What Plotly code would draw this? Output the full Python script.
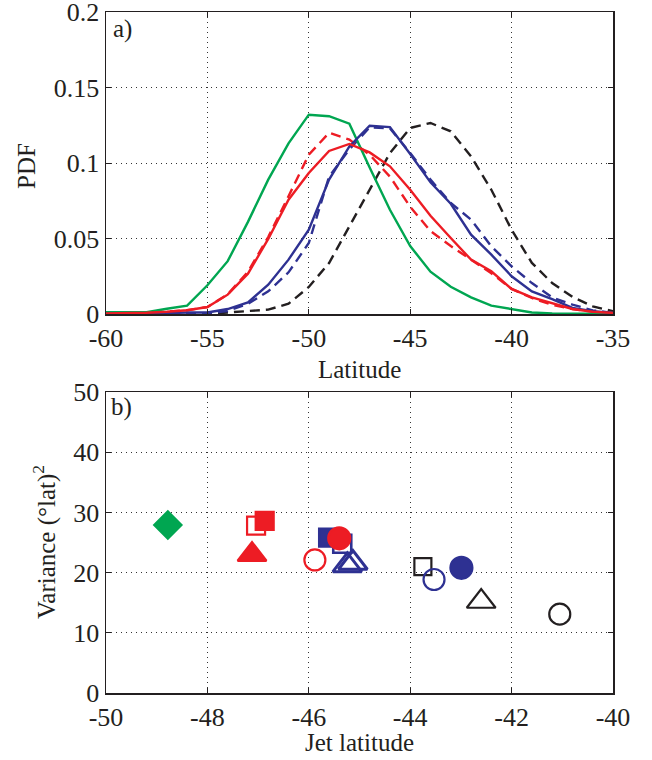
import plotly.graph_objects as go

# ---------------- Panel a) data ----------------
lat = list(range(-60, -34))
pdf_green = [0.0012, 0.0012, 0.0012, 0.0035, 0.0055, 0.019, 0.035, 0.061, 0.089, 0.113,
             0.132, 0.131, 0.126, 0.097, 0.069, 0.045, 0.028, 0.018, 0.011, 0.0055,
             0.003, 0.001, 0.0004, 0.0002, 0.0001, 0.0]
pdf_red = [0.0003, 0.0005, 0.0008, 0.0015, 0.0025, 0.0046, 0.0128, 0.0267, 0.0497, 0.0757,
           0.0934, 0.108, 0.1126, 0.107, 0.0978, 0.0823, 0.0651, 0.0503, 0.036, 0.0283,
           0.0166, 0.011, 0.0073, 0.0033, 0.0015, 0.0007]
pdf_red_dash = [0.0003, 0.0005, 0.0008, 0.0015, 0.0025, 0.0046, 0.013, 0.028, 0.051, 0.078,
                0.1055, 0.120, 0.1155, 0.1055, 0.091, 0.071, 0.055, 0.045, 0.036, 0.027,
                0.0166, 0.0106, 0.006, 0.0033, 0.0015, 0.0007]
pdf_blue = [0.0, 0.0001, 0.0002, 0.0005, 0.001, 0.001, 0.0033, 0.0077, 0.0194, 0.036,
            0.0559, 0.089, 0.111, 0.1247, 0.1238, 0.106, 0.0872, 0.073, 0.0525, 0.0393,
            0.025, 0.015, 0.0099, 0.004, 0.0018, 0.0007]
pdf_blue_dash = [0.0, 0.0001, 0.0002, 0.0003, 0.0004, 0.0005, 0.002, 0.0068, 0.015, 0.0276,
                 0.047, 0.091, 0.109, 0.1236, 0.123, 0.1066, 0.089, 0.0735, 0.0625, 0.0448,
                 0.0316, 0.0205, 0.011, 0.0062, 0.0024, 0.0007]
pdf_black_dash = [0.0, 0.0, 0.0, 0.0, 0.0, 0.0, 0.001, 0.0018, 0.0029, 0.0068,
                  0.0179, 0.0338, 0.058, 0.0823, 0.1066, 0.1232, 0.1265, 0.121, 0.1044, 0.0823,
                  0.0558, 0.0338, 0.0205, 0.0113, 0.0051, 0.0018]
xticks_a = [-60, -55, -50, -45, -40, -35]
xticklabels_a = ["-60", "-55", "-50", "-45", "-40", "-35"]
yticks_a = [0, 0.05, 0.1, 0.15, 0.2]
yticklabels_a = ["0", "0.05", "0.1", "0.15", "0.2"]

# ---------------- Panel b) data ----------------
jet_lat = [-48.78, -47.04, -46.87, -47.12, -45.88, -45.62, -45.34, -45.24, -45.13, -45.40,
           -43.75, -43.53, -42.99, -42.60, -41.05]
jet_var = [27.9, 27.8, 28.6, 23.0, 22.1, 25.8, 24.8, 21.2, 21.6, 25.7,
           21.0, 18.85, 20.8, 15.2, 13.1]
mk_symbol = ["diamond", "square-open", "square", "triangle-up", "circle-open", "square",
             "square-open", "triangle-up-open", "triangle-up-open", "circle",
             "square-open", "circle-open", "circle", "triangle-up-open", "circle-open"]
mk_color = ["green", "red", "red", "red", "red", "blue", "blue", "blue", "blue", "red",
            "black", "blue", "blue", "black", "black"]
mk_size = [21, 18, 18, 25, 21, 18, 18, 25, 25, 22, 17, 21, 22, 25, 21]
mk_lw = [2.2, 2.2, 2.2, 2.2, 2.2, 2.2, 2.6, 3.0, 3.0, 2.2, 2.2, 2.2, 2.2, 2.2, 2.2]
xticks_b = [-50, -48, -46, -44, -42, -40]
xticklabels_b = ["-50", "-48", "-46", "-44", "-42", "-40"]
yticks_b = [0, 10, 20, 30, 40, 50]

COL = {"green": "#00A651", "red": "#ED1C24", "blue": "#2E3192", "black": "#231F20"}

fig = go.Figure()

def add_line(y, color, dash):
    fig.add_trace(go.Scatter(x=lat, y=y, mode="lines", xaxis="x", yaxis="y",
                             line=dict(color=COL[color], width=2.4, dash=dash),
                             showlegend=False, hoverinfo="skip"))

DASH = "10px,6px"
add_line(pdf_black_dash, "black", DASH)
add_line(pdf_blue_dash, "blue", DASH)
add_line(pdf_red_dash, "red", DASH)
add_line(pdf_green, "green", "solid")
add_line(pdf_blue, "blue", "solid")
add_line(pdf_red, "red", "solid")

for xv, yv, s, c, sz, lw in zip(jet_lat, jet_var, mk_symbol, mk_color, mk_size, mk_lw):
    fig.add_trace(go.Scatter(x=[xv], y=[yv], mode="markers", xaxis="x2", yaxis="y2",
                             marker=dict(symbol=s, size=sz, color=COL[c],
                                         line=dict(color=COL[c], width=lw)),
                             showlegend=False, hoverinfo="skip"))

FONT = "Liberation Serif, Times New Roman, serif"
TXT = "#231F20"
W, H = 652, 760
# plot area in page pixels: x 106..613, panel a y 12..314, panel b y 392..693
ml = 106
mr = W - 613
mt = 12
mb = H - 693
pw = W - ml - mr
ph = H - mt - mb

def px(x):
    return (x - ml) / pw

def py(y):
    return (H - mb - y) / ph

axis_common = dict(showline=True, linecolor=TXT, linewidth=1.5, mirror="ticks",
                   ticks="inside", ticklen=5, tickcolor=TXT, tickwidth=1,
                   showgrid=True, gridcolor="#333333", gridwidth=1, griddash="1px,4px",
                   zeroline=False, automargin=False, ticklabeloverflow="allow",
                   tickfont=dict(family=FONT, size=26, color=TXT))

fig.update_layout(
    width=W, height=H, margin=dict(l=ml, r=mr, t=mt, b=mb, autoexpand=False),
    paper_bgcolor="white", plot_bgcolor="white", showlegend=False,
    xaxis=dict(domain=[0, 1], anchor="y", range=[-60, -35], tickvals=xticks_a,
               ticktext=xticklabels_a, **axis_common),
    yaxis=dict(domain=[py(314), 1], anchor="x", range=[0, 0.2],
               tickvals=yticks_a, ticktext=yticklabels_a, **axis_common),
    xaxis2=dict(domain=[0, 1], anchor="y2", range=[-50, -40], tickvals=xticks_b,
                ticktext=xticklabels_b, **axis_common),
    yaxis2=dict(domain=[0, py(392)], anchor="x2", range=[0, 50],
                tickvals=yticks_b, **axis_common),
)

def ann(text, x, y, angle=0, xanchor="center"):
    fig.add_annotation(text=text, xref="paper", yref="paper", x=px(x), y=py(y),
                       xanchor=xanchor, yanchor="middle", textangle=angle, showarrow=False,
                       font=dict(family=FONT, size=25, color=TXT))

ann("Latitude", 359.5, 369)
ann("Jet latitude", 359.5, 743)
ann("PDF", 26, 166, angle=-90)
ann("Variance (°lat)<sup>2</sup>", 44, 542, angle=-90)
ann("a)", 111, 29, xanchor="left")
ann("b)", 109, 407, xanchor="left")

fig.write_html("out.html", config={"displayModeBar": False, "staticPlot": True},
               post_script="document.body.style.margin='0px';document.body.style.overflow='hidden';")
